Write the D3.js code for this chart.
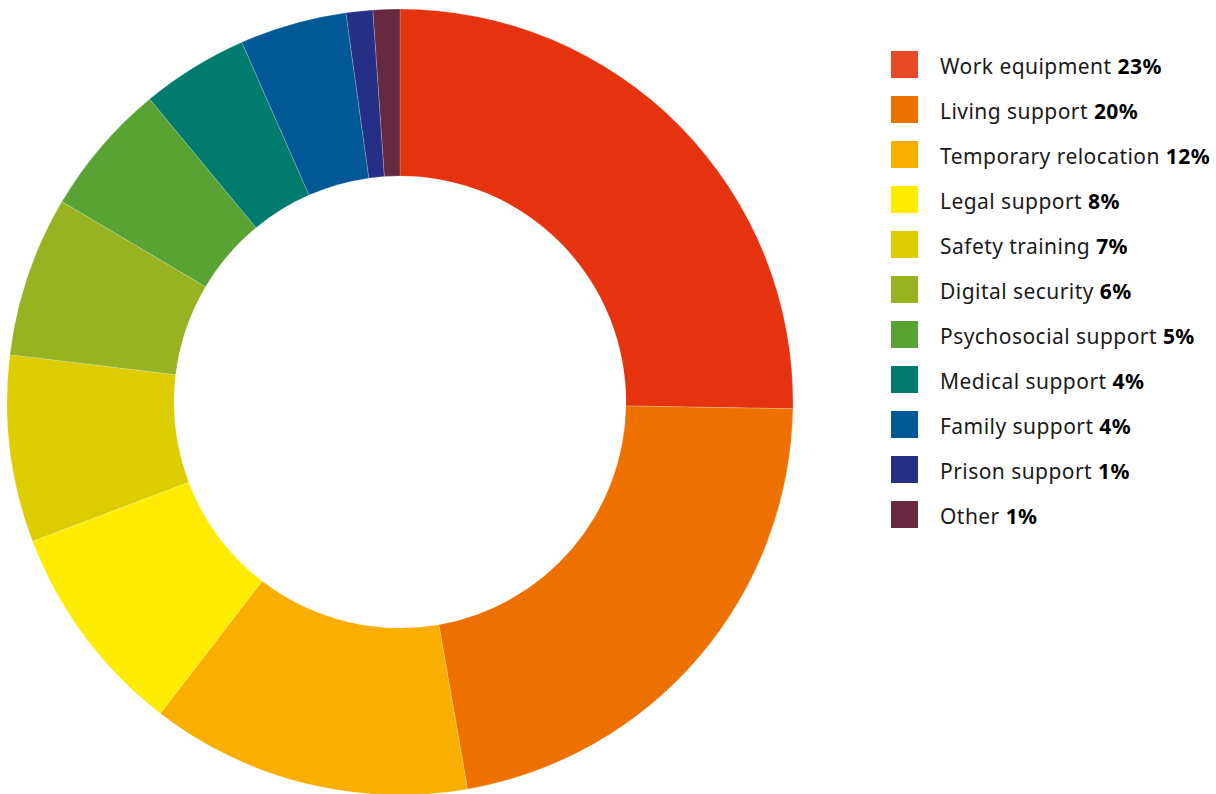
<!DOCTYPE html>
<html>
<head>
<meta charset="utf-8">
<script src="https://cdn.jsdelivr.net/npm/d3@7"></script>
<style>
  html, body { margin: 0; padding: 0; background: #fff; }
  svg { display: block; }
  text { font-family: "Noto Sans", "Open Sans", sans-serif; }
</style>
</head>
<body>
<script>
// Support categories and their shares (%)
const categories = [
  "Work equipment", "Living support", "Temporary relocation", "Legal support",
  "Safety training", "Digital security", "Psychosocial support", "Medical support",
  "Family support", "Prison support", "Other"
];
const values = [23, 20, 12, 8, 7, 6, 5, 4, 4, 1, 1];
const sliceColors = [
  "#E5320F", "#EE7100", "#F9AE00", "#FFEC00", "#DDCC00", "#97B322",
  "#58A333", "#007B6E", "#005896", "#262F86", "#66293F"
];
const legendColors = [
  "#E84A27", "#EE7100", "#F9AE00", "#FFEC00", "#DDCC00", "#97B322",
  "#58A333", "#007B6E", "#005896", "#262F86", "#66293F"
];

const width = 1216, height = 794;
const cx = 400, cy = 402, outerR = 393, innerR = 226;

const svg = d3.select("body").append("svg")
  .attr("width", width).attr("height", height);

const data = categories.map((c, i) => ({ name: c, value: values[i], i }));

const pie = d3.pie().value(d => d.value).sort(null);
const arc = d3.arc().innerRadius(innerR).outerRadius(outerR);

svg.append("g")
  .attr("transform", `translate(${cx},${cy})`)
  .selectAll("path")
  .data(pie(data))
  .join("path")
  .attr("d", arc)
  .attr("fill", d => sliceColors[d.data.i])
  .attr("stroke", "#fff")
  .attr("stroke-width", 0.4)
  .attr("stroke-opacity", 0.5);

// Legend
const legendY = d3.scaleBand()
  .domain(categories)
  .range([51, 51 + 45 * categories.length]);

const legend = svg.append("g").selectAll("g")
  .data(data)
  .join("g")
  .attr("transform", d => `translate(891,${legendY(d.name)})`);

legend.append("rect")
  .attr("width", 27).attr("height", 27)
  .attr("fill", d => legendColors[d.i]);

const label = legend.append("text")
  .attr("x", 49).attr("y", 23)
  .attr("font-size", 21)
  .attr("letter-spacing", 0.45)
  .attr("fill", "#1a1a1a");
label.append("tspan").text(d => d.name + " ");
label.append("tspan").attr("font-weight", "bold").attr("fill", "#000").text(d => d.value + "%");
</script>
</body>
</html>
